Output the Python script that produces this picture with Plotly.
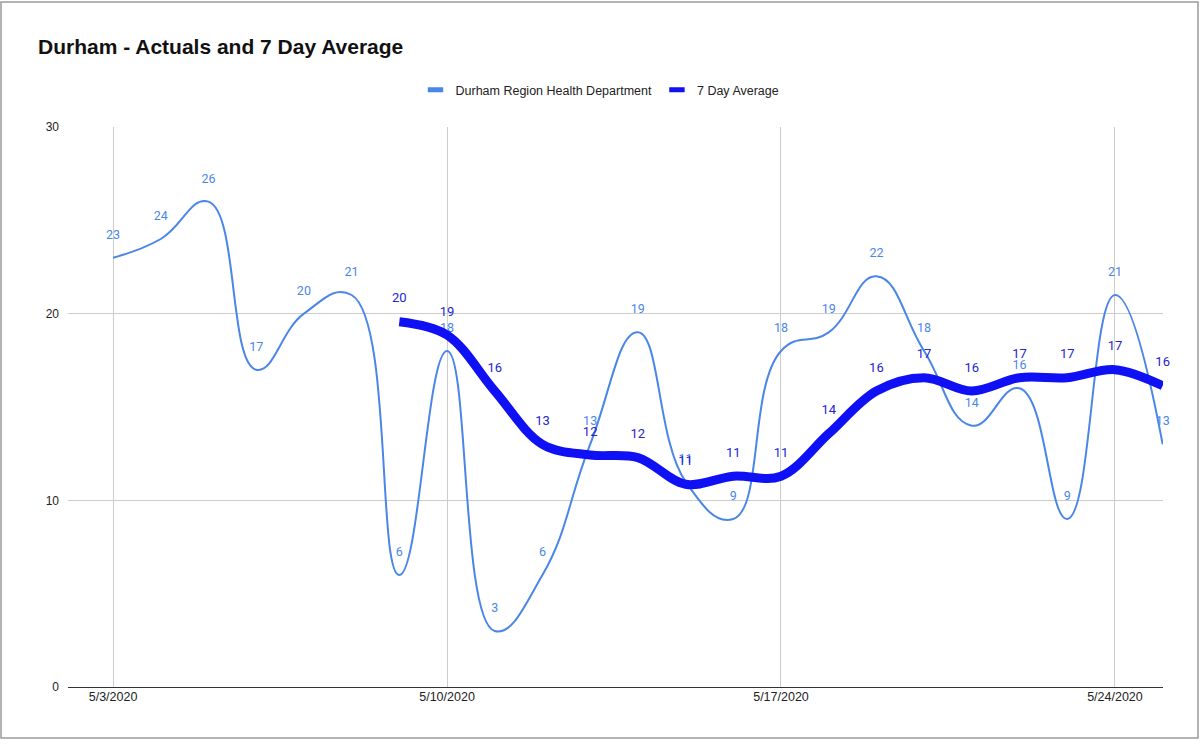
import plotly.graph_objects as go

dates = ["2020-05-03", "2020-05-04", "2020-05-05", "2020-05-06", "2020-05-07", "2020-05-08",
         "2020-05-09", "2020-05-10", "2020-05-11", "2020-05-12", "2020-05-13", "2020-05-14",
         "2020-05-15", "2020-05-16", "2020-05-17", "2020-05-18", "2020-05-19", "2020-05-20",
         "2020-05-21", "2020-05-22", "2020-05-23", "2020-05-24", "2020-05-25"]
actuals = [23, 24, 26, 17, 20, 21, 6, 18, 3, 6, 13, 19, 11, 9, 18, 19, 22, 18, 14, 16, 9, 21, 13]
avg_dates = dates[6:]
avg7 = [19.57, 18.86, 15.86, 13.00, 12.43, 12.29, 10.86, 11.29, 11.29, 13.57,
        15.86, 16.57, 15.86, 16.57, 16.57, 17.00, 16.14]

series_names = ["Durham Region Health Department", "7 Day Average"]
title_text = "Durham - Actuals and 7 Day Average"

C_ACT = "#4a86e8"
C_AVG = "#1010f5"
C_AVG_TXT = "#2424d0"

fig = go.Figure()
fig.add_trace(go.Scatter(
    x=dates, y=actuals, name=series_names[0], mode="lines+markers+text",
    line=dict(color=C_ACT, width=2, shape="spline", smoothing=1.3),
    marker=dict(size=24, color="rgba(0,0,0,0)"),
    text=[str(v) for v in actuals], textposition="top center",
    textfont=dict(family="Roboto", size=12.5, color=C_ACT),
    cliponaxis=False, showlegend=False, hoverinfo="skip",
))
fig.add_trace(go.Scatter(
    x=avg_dates, y=avg7, name=series_names[1], mode="lines+markers+text",
    line=dict(color=C_AVG, width=9, shape="spline", smoothing=1.0),
    marker=dict(size=24, color="rgba(0,0,0,0)"),
    texttemplate="%{y:.0f}", textposition="top center",
    textfont=dict(family="Roboto", size=13, color=C_AVG_TXT),
    cliponaxis=False, showlegend=False, hoverinfo="skip",
))
# legend entries (short thick bars like the reference)
for nm, col in zip(series_names, [C_ACT, C_AVG]):
    fig.add_trace(go.Scatter(
        x=[None], y=[None], name=nm, mode="markers",
        marker=dict(symbol="line-ew-open", size=11, color=col, line=dict(color=col, width=5)),
        showlegend=True,
    ))

L, R, T, B = 68, 37, 127, 60
W, H = 1200, 747
pw, ph = W - L - R, H - T - B

def px(x):
    return (x - L) / pw

def py(y):
    return (H - B - y) / ph

fig.update_layout(
    width=W, height=H,
    margin=dict(l=L, r=R, t=T, b=B),
    paper_bgcolor="white", plot_bgcolor="white",
    font=dict(family="Liberation Sans, Arial", color="#222222"),
    title=dict(text="<b>" + title_text + "</b>", x=38 / W, xanchor="left",
               y=1 - 47 / H, yanchor="middle",
               font=dict(family="Liberation Sans, Arial", size=21, color="#111111")),
    showlegend=True,
    legend=dict(orientation="h", x=px(600), xanchor="center", y=py(90), yanchor="middle",
                font=dict(size=12.5, color="#222222"), itemwidth=30,
                bgcolor="rgba(0,0,0,0)"),
    xaxis=dict(
        type="date",
        range=["2020-05-02 01:20", "2020-05-25 00:10"],
        tick0="2020-05-03", dtick=7 * 86400000, tickformat="%-m/%-d/%Y",
        showgrid=True, gridcolor="#cccccc", gridwidth=1,
        zeroline=False, showline=False, ticks="",
        tickfont=dict(size=12.5, color="#222222"),
    ),
    yaxis=dict(
        range=[0, 30], tickvals=[0, 10, 20, 30],
        showgrid=True, gridcolor="#cccccc", gridwidth=1,
        zeroline=True, zerolinecolor="#333333", zerolinewidth=1,
        showline=False, ticks="", ticklabelstandoff=8,
        tickfont=dict(size=12, color="#222222"),
    ),
    shapes=[
        dict(type="rect", xref="paper", yref="paper",
             x0=px(1), x1=px(1198), y0=py(738), y1=py(2),
             line=dict(color="#9a9a9a", width=1.5), fillcolor="rgba(0,0,0,0)"),
    ],
)

fig.write_html("out.html", config={"displayModeBar": False},
               post_script="document.body.style.margin='0';")
